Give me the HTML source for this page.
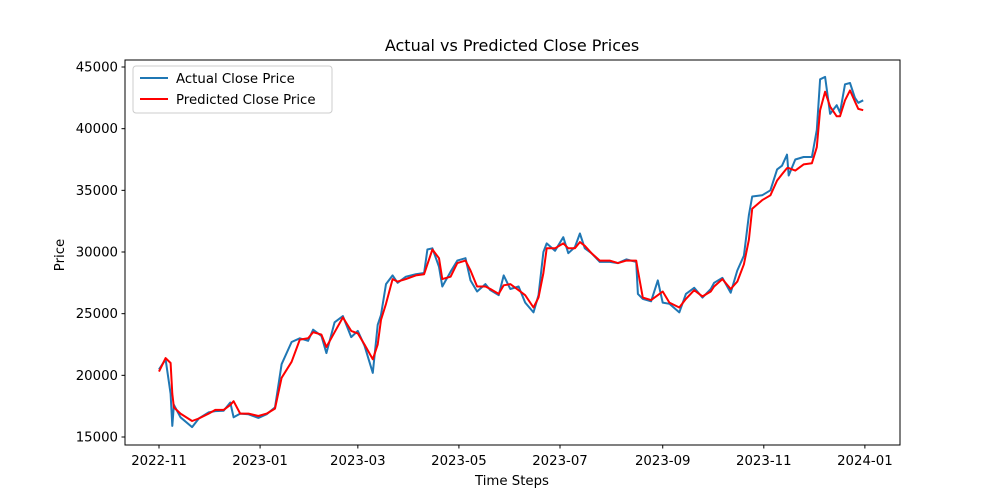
<!DOCTYPE html>
<html><head><meta charset="utf-8"><style>
body{margin:0;background:#fff;}
svg{display:block;font-family:"DejaVu Sans","Liberation Sans",sans-serif;}
</style></head><body>
<svg id="chart" width="1000" height="500" viewBox="0 0 1000 500">
<rect x="0" y="0" width="1000" height="500" fill="#fff"/>
<text x="512" y="51" font-size="16" text-anchor="middle">Actual vs Predicted Close Prices</text>
<text x="512" y="485" font-size="13.3" text-anchor="middle">Time Steps</text>
<text x="64" y="255" font-size="13.3" text-anchor="middle" transform="rotate(-90 64 255)">Price</text>
<g id="plot"></g>
<rect x="125" y="60" width="775" height="385" fill="none" stroke="#000" stroke-width="1"/>
<g>
<rect x="133" y="66" width="199" height="47" rx="3" fill="#fff" fill-opacity="0.8" stroke="#ccc"/>
<line x1="140" y1="78" x2="168" y2="78" stroke="#1f77b4" stroke-width="2"/>
<text x="176" y="83" font-size="13.3">Actual Close Price</text>
<line x1="140" y1="99" x2="168" y2="99" stroke="#ff0000" stroke-width="2"/>
<text x="176" y="104" font-size="13.3">Predicted Close Price</text>
</g>
</svg>
<script>
const dates=["2022-11-01","2022-11-05","2022-11-08","2022-11-09","2022-11-10","2022-11-14","2022-11-21","2022-11-25","2022-12-01","2022-12-05","2022-12-10","2022-12-14","2022-12-16","2022-12-20","2022-12-25","2022-12-31","2023-01-05","2023-01-10","2023-01-14","2023-01-20","2023-01-25","2023-01-30","2023-02-02","2023-02-07","2023-02-10","2023-02-15","2023-02-20","2023-02-25","2023-03-01","2023-03-05","2023-03-10","2023-03-13","2023-03-15","2023-03-18","2023-03-22","2023-03-25","2023-03-30","2023-04-05","2023-04-10","2023-04-12","2023-04-15","2023-04-19","2023-04-21","2023-04-26","2023-04-30","2023-05-05","2023-05-08","2023-05-12","2023-05-17","2023-05-20","2023-05-25","2023-05-28","2023-06-01","2023-06-06","2023-06-10","2023-06-15","2023-06-18","2023-06-21","2023-06-23","2023-06-28","2023-07-03","2023-07-06","2023-07-10","2023-07-13","2023-07-16","2023-07-20","2023-07-25","2023-07-31","2023-08-05","2023-08-10","2023-08-16","2023-08-17","2023-08-20","2023-08-25","2023-08-29","2023-09-01","2023-09-05","2023-09-11","2023-09-15","2023-09-20","2023-09-25","2023-09-30","2023-10-02","2023-10-07","2023-10-12","2023-10-16","2023-10-20","2023-10-23","2023-10-25","2023-10-31","2023-11-05","2023-11-09","2023-11-12","2023-11-15","2023-11-16","2023-11-20","2023-11-25","2023-11-30","2023-12-03","2023-12-05","2023-12-08","2023-12-11","2023-12-15","2023-12-17","2023-12-20","2023-12-23","2023-12-26","2023-12-28","2023-12-31"];
const actual=[20480,21300,18500,15900,17600,16600,15800,16500,17000,17100,17130,17800,16600,16900,16840,16550,16850,17400,20900,22700,23000,22800,23700,23200,21800,24300,24800,23100,23600,22400,20200,24100,24900,27400,28100,27500,28000,28200,28300,30200,30300,28800,27200,28400,29300,29500,27700,26800,27400,26900,26500,28100,27000,27200,25900,25100,26500,30000,30700,30100,31200,29900,30400,31500,30300,29900,29200,29200,29100,29400,29200,26600,26200,26000,27700,25900,25800,25100,26600,27100,26300,27000,27500,27900,26700,28500,29700,33000,34500,34600,35000,36700,37000,37900,36200,37500,37700,37700,39900,44000,44200,41200,41900,41300,43600,43700,42500,42100,42300];
const predicted=[20300,21400,21000,18500,17400,16900,16300,16500,16900,17200,17200,17600,17900,16900,16900,16700,16900,17300,19800,21100,22900,23000,23500,23300,22300,23500,24700,23600,23400,22500,21300,22500,24500,25800,27800,27600,27800,28100,28200,29000,30200,29500,27800,28000,29100,29300,28500,27200,27200,27000,26600,27300,27400,26900,26500,25500,26300,28300,30300,30300,30700,30300,30300,30800,30500,29900,29300,29300,29100,29300,29300,28500,26300,26100,26500,26800,25900,25500,26200,26900,26400,26800,27200,27800,27000,27600,29000,31000,33500,34200,34600,35800,36300,36800,36800,36600,37100,37200,38500,41500,43000,41800,41000,41000,42300,43100,42200,41600,41500];
const yTicks=[15000,20000,25000,30000,35000,40000,45000];
const xTicks=["2022-11","2023-01","2023-03","2023-05","2023-07","2023-09","2023-11","2024-01"];

const NS="http://www.w3.org/2000/svg";
const t0=Date.UTC(2022,10,1);
function dayOf(s){const p=s.split("-");return (Date.UTC(+p[0],+p[1]-1,p[2]?+p[2]:1)-t0)/86400000;}
function xs(s){return 159+dayOf(s)*1.657;}
function ys(v){return 437-(v-15000)*0.012333;}
const plot=document.getElementById("plot");
function mk(tag,attrs){const e=document.createElementNS(NS,tag);for(const k in attrs)e.setAttribute(k,attrs[k]);plot.appendChild(e);return e;}
yTicks.forEach(v=>{
  const y=ys(v);
  const l=mk("line",{x1:121.5,x2:125,y1:y,y2:y,stroke:"#000"});
  
  
  const t=mk("text",{x:118,y:y+4.5,"font-size":13.3,"text-anchor":"end"});
  t.textContent=v;
  
  
});
xTicks.forEach(s=>{
  const x=xs(s);
  const l=mk("line",{x1:x,x2:x,y1:445,y2:448.5,stroke:"#000"});
  
  
  const t=mk("text",{x:x,y:465,"font-size":13.3,"text-anchor":"middle"});
  t.textContent=s;
  
  
});
function series(vals,color){
  return vals.map((v,i)=>(i?"L":"M")+xs(dates[i]).toFixed(1)+","+ys(v).toFixed(1)).join("");
}
const a=mk("path",{d:series(actual),fill:"none",stroke:"#1f77b4","stroke-width":2,"stroke-linejoin":"round"});


const p=mk("path",{d:series(predicted),fill:"none",stroke:"#ff0000","stroke-width":2,"stroke-linejoin":"round"});


</script>
</body></html>
